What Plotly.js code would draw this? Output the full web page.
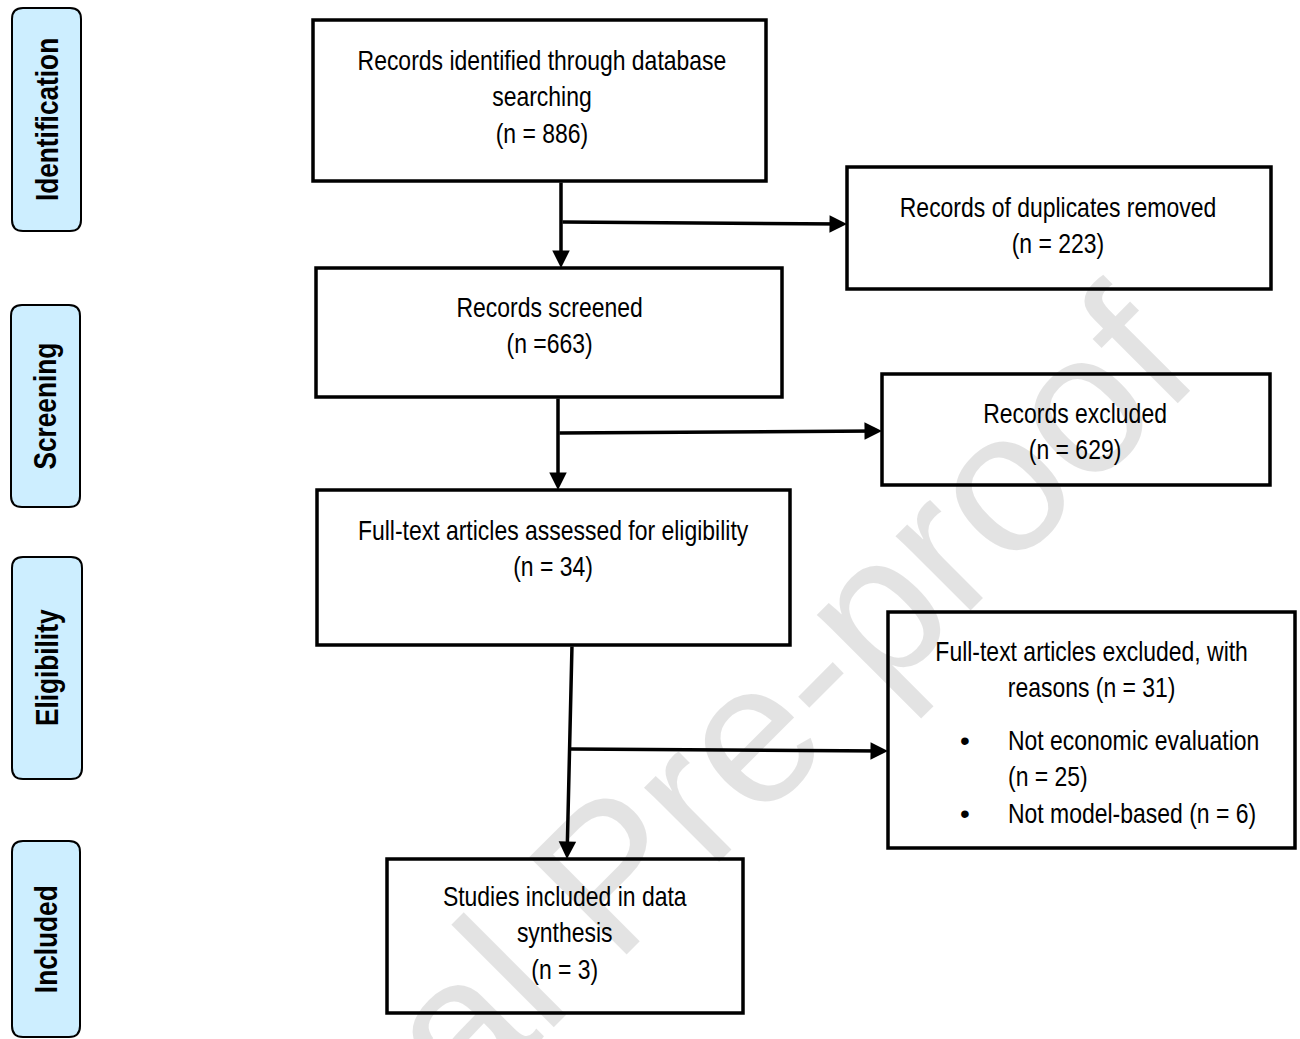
<!DOCTYPE html>
<html>
<head>
<meta charset="utf-8">
<script src="https://cdn.plot.ly/plotly-3.0.1.min.js"></script>
<style>
  html, body { margin: 0; padding: 0; background: #ffffff; }
  #chart { width: 1300px; height: 1039px; }
</style>
</head>
<body>
<div id="chart"></div>
<script>
// ---------------- DATA ----------------
const stageLabels = ['Identification', 'Screening', 'Eligibility', 'Included'];
const boxTitles = [
  'Records identified through database<br>searching',
  'Records of duplicates removed',
  'Records screened',
  'Records excluded',
  'Full-text articles assessed for eligibility',
  'Full-text articles excluded, with<br>reasons',
  'Studies included in data<br>synthesis'
];
const boxCounts = [886, 223, 663, 629, 34, 31, 3];
const countOnSameLine = [false, false, false, false, false, true, false];
const compactCount = [false, false, true, false, false, false, false];
const exclusionReasons = ['Not economic evaluation', 'Not model-based'];
const reasonCounts = [25, 6];
const reasonCountOnNewLine = [true, false];
const watermarkText = 'Journal Pre-proof';

// ---------------- LAYOUT CONFIG (positions / styles) ----------------
const W = 1300, H = 1039;
const FONT = '"Liberation Sans", Arial, sans-serif';
const NARROW = 0.82;   // horizontal condensing to mimic Arial Narrow
const stageGeom = [
  {x0: 12, y0: 8,   x1: 81, y1: 231},
  {x0: 11, y0: 305, x1: 80, y1: 507},
  {x0: 12, y0: 557, x1: 82, y1: 779},
  {x0: 12, y0: 841, x1: 80, y1: 1037}
];
const boxGeom = [
  {x0: 313, y0: 20,  x1: 766,  y1: 181, tx: 542,  ty: 97},
  {x0: 847, y0: 167, x1: 1271, y1: 289, tx: 1058, ty: 225},
  {x0: 316, y0: 268, x1: 782,  y1: 397, tx: 549,  ty: 325},
  {x0: 882, y0: 374, x1: 1270, y1: 485, tx: 1075, ty: 431},
  {x0: 317, y0: 490, x1: 790,  y1: 645, tx: 553,  ty: 548},
  {x0: 888, y0: 612, x1: 1295, y1: 848, tx: 1091, ty: 669},
  {x0: 387, y0: 859, x1: 743,  y1: 1013, tx: 565, ty: 933}
];
const bulletGeom = {bx: 965, tx: 1006, ty: 777};
const arrowGeom = [
  {ax: 561, ay: 181, x: 561, y: 268},
  {ax: 561, ay: 222, x: 847, y: 224},
  {ax: 558, ay: 397, x: 558, y: 490},
  {ax: 558, ay: 433, x: 882, y: 431},
  {ax: 572, ay: 645, x: 567, y: 859},
  {ax: 569, ay: 749, x: 888, y: 751}
];
const watermarkGeom = {x: 609, y: 873, size: 200, angle: -45};

function roundedRect(g, r) {
  const {x0, y0, x1, y1} = g;
  return `M${x0 + r},${y0} L${x1 - r},${y0} Q${x1},${y0} ${x1},${y0 + r} ` +
         `L${x1},${y1 - r} Q${x1},${y1} ${x1 - r},${y1} L${x0 + r},${y1} ` +
         `Q${x0},${y1} ${x0},${y1 - r} L${x0},${y0 + r} Q${x0},${y0} ${x0 + r},${y0} Z`;
}

function countText(i) {
  return compactCount[i] ? `(n =${boxCounts[i]})` : `(n = ${boxCounts[i]})`;
}

const shapes = [];
const annotations = [];
const condense = [];   // per annotation: null | 'center' | 'left'

function addAnn(a, mode) { annotations.push(a); condense.push(mode); }

// watermark (translucent black so black marks stay black underneath)
addAnn({
  x: watermarkGeom.x, y: watermarkGeom.y, xref: 'x', yref: 'y',
  text: watermarkText, showarrow: false, textangle: watermarkGeom.angle,
  xanchor: 'center', yanchor: 'middle',
  font: {family: FONT, size: watermarkGeom.size, color: 'rgba(0,0,0,0.11)'}
}, null);

// stage side labels
stageLabels.forEach((lab, i) => {
  const g = stageGeom[i];
  shapes.push({
    type: 'path', xref: 'x', yref: 'y', path: roundedRect(g, 11),
    fillcolor: '#cdeeff', line: {color: '#000000', width: 2}, layer: 'below'
  });
  addAnn({
    x: (g.x0 + g.x1) / 2, y: (g.y0 + g.y1) / 2, xref: 'x', yref: 'y',
    text: '<b>' + lab + '</b>', showarrow: false, textangle: -90,
    xanchor: 'center', yanchor: 'middle',
    font: {family: FONT, size: 32, color: '#000000'}
  }, 'center');
});

// main boxes
boxTitles.forEach((t, i) => {
  const g = boxGeom[i];
  shapes.push({
    type: 'rect', xref: 'x', yref: 'y', x0: g.x0, x1: g.x1, y0: g.y0, y1: g.y1,
    line: {color: '#000000', width: 3.5}, fillcolor: 'rgba(0,0,0,0)', layer: 'above'
  });
  const txt = countOnSameLine[i] ? `${t} ${countText(i)}` : `${t}<br>${countText(i)}`;
  addAnn({
    x: g.tx, y: g.ty, xref: 'x', yref: 'y', text: txt, showarrow: false,
    xanchor: 'center', yanchor: 'middle', align: 'center',
    font: {family: FONT, size: 28, color: '#000000'}
  }, 'center');
});

// bulleted exclusion reasons
const reasonLines = [];
const bulletLines = [];
exclusionReasons.forEach((r, i) => {
  if (reasonCountOnNewLine[i]) {
    reasonLines.push(r, `(n = ${reasonCounts[i]})`);
    bulletLines.push('•', ' ');
  } else {
    reasonLines.push(`${r} (n = ${reasonCounts[i]})`);
    bulletLines.push('•');
  }
});
addAnn({
  x: bulletGeom.tx, y: bulletGeom.ty, xref: 'x', yref: 'y',
  text: reasonLines.join('<br>'), showarrow: false,
  xanchor: 'left', yanchor: 'middle', align: 'left',
  font: {family: FONT, size: 28, color: '#000000'}
}, 'left');
addAnn({
  x: bulletGeom.bx, y: bulletGeom.ty, xref: 'x', yref: 'y',
  text: bulletLines.join('<br>'), showarrow: false,
  xanchor: 'center', yanchor: 'middle', align: 'center',
  font: {family: FONT, size: 28, color: '#000000'}
}, null);

// arrows
arrowGeom.forEach(a => {
  addAnn({
    x: a.x, y: a.y, ax: a.ax, ay: a.ay, xref: 'x', yref: 'y', axref: 'x', ayref: 'y',
    text: '', showarrow: true, arrowhead: 2, arrowsize: 1.0, arrowwidth: 3.5,
    arrowcolor: '#000000', standoff: 0, startstandoff: 0
  }, null);
});

const layout = {
  width: W, height: H,
  margin: {l: 0, r: 0, t: 0, b: 0, pad: 0},
  paper_bgcolor: '#ffffff', plot_bgcolor: '#ffffff',
  xaxis: {range: [0, W], visible: false, fixedrange: true},
  yaxis: {range: [H, 0], visible: false, fixedrange: true},
  showlegend: false,
  shapes: shapes,
  annotations: annotations
};

Plotly.newPlot('chart', [{x: [], y: [], type: 'scatter', mode: 'markers', hoverinfo: 'skip'}], layout,
  {staticPlot: true, displayModeBar: false}).then(gd => {
  // condense annotation text horizontally (narrow typeface look)
  gd.querySelectorAll('g.annotation').forEach(g => {
    const idx = +g.getAttribute('data-index');
    const mode = condense[idx];
    if (!mode) return;
    const t = g.querySelector('text.annotation-text');
    if (!t) return;
    t.style.transformBox = 'fill-box';
    t.style.transformOrigin = mode === 'left' ? 'left center' : 'center center';
    t.style.transform = `scaleX(${NARROW})`;
  });
});
</script>
</body>
</html>
